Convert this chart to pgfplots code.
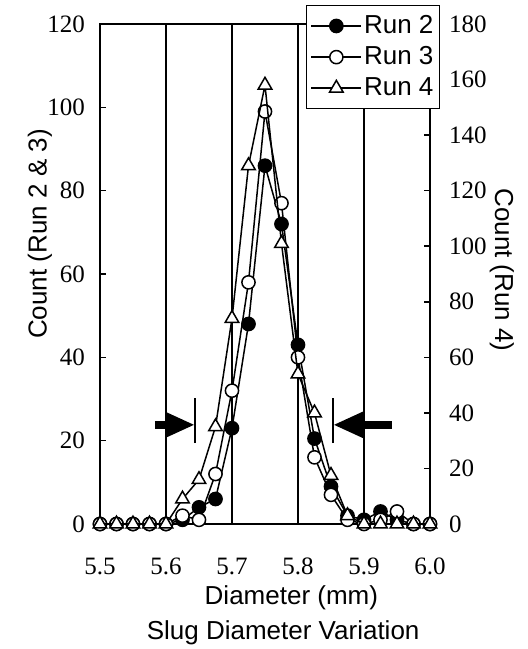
\documentclass[border=0pt]{standalone}
\usepackage{fontspec}
\setmainfont{Liberation Serif}
\setsansfont{Liberation Sans}
\usepackage{pgfplots}
\usepackage{pgfplotstable}
\pgfplotsset{compat=1.18}
\usetikzlibrary{arrows.meta}

\pgfplotstableread{
x     r2   r3   r4
5.500 0    0    0
5.525 0    0    0
5.550 0    0    0
5.575 0    0    0
5.600 0    0    0
5.625 1    2    9
5.650 4    1    16
5.675 6    12   35
5.700 23   32   74
5.725 48   58   129
5.750 86   99   158
5.775 72   77   101
5.800 43   40   54
5.825 20.5 16   40
5.850 9    7    17.5
5.875 2    1    3
5.900 1    0    0
5.925 3    1    0
5.950 1    3    0
5.975 0    0    0
6.000 0    0    0
}\data

\begin{document}
\begin{tikzpicture}
\pgfplotsset{
  common/.style={
    scale only axis, width=165pt, height=250pt,
    xmin=5.5, xmax=6.0, clip=false,
    /pgf/number format/assume math mode=true,
    tick style={black, line width=0.75pt},
    major tick length=3pt,
    axis line style={black, line width=0.75pt},
    ticklabel style={font=\fontsize{12.5}{14}\selectfont},
    label style={font=\sffamily\fontsize{13}{15}\selectfont},
  },
}
\begin{axis}[common,
  ymin=0, ymax=120, ytick={0,20,40,60,80,100,120}, ytick pos=left,
  xtick={5.5,5.6,5.7,5.8,5.9,6.0},
  xticklabel style={yshift=-13.5pt, /pgf/number format/.cd, fixed, fixed zerofill, precision=1},
  xmajorgrids, grid style={black, line width=0.75pt},
  x tick style={draw=none},
  yticklabel style={xshift=-4pt},
  xlabel={Diameter (mm)},
  xlabel style={at={(axis description cs:0.58,-0.148)}, anchor=center},
  ylabel={Count (Run 2 \& 3)},
  ylabel style={at={(axis description cs:-0.182,0.58)}, anchor=center},
]
\addplot[black, line width=0.75pt, mark=*, mark size=3.3pt, mark options={fill=black, solid}] table[x=x,y=r2]{\data};
\addplot[black, line width=0.75pt, mark=*, mark size=3.3pt, mark options={fill=white, solid}] table[x=x,y=r3]{\data};
\draw[line width=0.75pt] (axis cs:5.644,19.4) -- (axis cs:5.644,30.2);
\draw[line width=4pt, -{Triangle[length=15pt,width=12pt]}] (axis cs:5.583,23.8) -- (axis cs:5.644,23.8);
\draw[line width=0.75pt] (axis cs:5.853,19.4) -- (axis cs:5.853,30.2);
\draw[line width=4pt, -{Triangle[length=15pt,width=12pt]}] (axis cs:5.942,23.8) -- (axis cs:5.853,23.8);
\node[font=\sffamily\fontsize{13}{15}\selectfont, anchor=center] at (axis description cs:0.555,-0.218) {Slug Diameter Variation};
\end{axis}
\begin{axis}[common,
  ymin=0, ymax=180, ytick={0,20,40,60,80,100,120,140,160,180},
  axis y line*=right, axis x line=none,
  yticklabel style={xshift=6pt},
  ylabel={Count (Run 4)},
  every axis y label/.style={at={(axis description cs:1.218,0.508)}, rotate=-90, anchor=center, font=\sffamily\fontsize{13}{15}\selectfont},
  legend style={at={(1.03,1.038)}, anchor=north east, draw=black, fill=white,
    font=\sffamily\fontsize{13}{15}\selectfont, inner xsep=2pt, inner ysep=3pt,
    row sep=1pt,
    nodes={inner xsep=1pt}},
  legend cell align=left,
  legend image code/.code={\draw[mark repeat=2,mark phase=2] plot coordinates {(0pt,0pt) (12.5pt,0pt) (25pt,0pt)};},
]
\addlegendimage{black, line width=0.75pt, mark=*, mark size=3.3pt, mark options={fill=black, solid}}
\addlegendentry{Run 2}
\addlegendimage{black, line width=0.75pt, mark=*, mark size=3.3pt, mark options={fill=white, solid}}
\addlegendentry{Run 3}
\addplot[black, line width=0.75pt, mark=triangle*, mark size=3.9pt, mark options={fill=white, solid}] table[x=x,y=r4]{\data};
\addlegendentry{Run 4}
\end{axis}
\pgfresetboundingbox
\path[use as bounding box] (-50pt,-62.5pt) rectangle (214pt,262pt);
\end{tikzpicture}
\end{document}
